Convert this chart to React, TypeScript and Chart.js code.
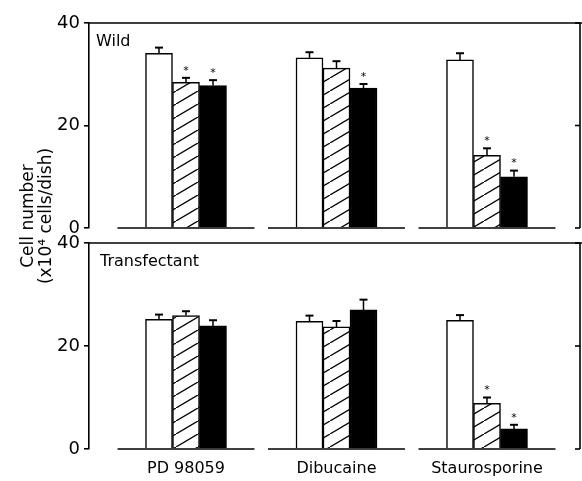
import React, { useEffect, useRef } from 'react';
import { Chart, registerables } from 'chart.js';

Chart.register(...registerables);

// ---------- data ----------
const categories = ['PD 98059', 'Dibucaine', 'Staurosporine'];
const yMin = 0;
const yMax = 40;
const yStep = 20;

// Wild
const wildControl = [34.1, 33.2, 32.8];
const wildLow = [28.4, 31.2, 14.2];
const wildHigh = [27.8, 27.3, 10.0];
const wildControlErr = [1.1, 1.1, 1.3];
const wildLowErr = [0.9, 1.35, 1.35];
const wildHighErr = [1.05, 0.8, 1.2];
const wildControlSig = [false, false, false];
const wildLowSig = [true, false, true];
const wildHighSig = [true, true, true];

// Transfectant
const transControl = [25.2, 24.8, 25.0];
const transLow = [25.9, 23.7, 8.85];
const transHigh = [23.9, 27.0, 3.9];
const transControlErr = [0.9, 1.1, 1.0];
const transLowErr = [0.85, 1.15, 1.15];
const transHighErr = [1.1, 2.0, 0.8];
const transControlSig = [false, false, false];
const transLowSig = [false, false, true];
const transHighSig = [false, false, true];

const FONT = '"DejaVu Sans", "Liberation Sans", Arial, sans-serif';

function makeHatch(): CanvasPattern | string {
  const c = document.createElement('canvas');
  const W = 22;
  const H = 13;
  c.width = W;
  c.height = H;
  const g = c.getContext('2d');
  if (!g) return '#999';
  g.fillStyle = '#fff';
  g.fillRect(0, 0, W, H);
  g.strokeStyle = '#000';
  g.lineWidth = 1.3;
  g.beginPath();
  g.moveTo(-W, 2 * H);
  g.lineTo(2 * W, -H);
  g.stroke();
  return g.createPattern(c, 'repeat') || '#999';
}

type Series = { values: number[]; err: number[]; sig: boolean[] };

function decorPlugin(label: string, labelDx: number, series: Series[]) {
  return {
    id: 'panelDecor',
    afterDatasetsDraw(chart: any) {
      const ctx: CanvasRenderingContext2D = chart.ctx;
      const { left, right, top, bottom } = chart.chartArea;
      const xs = chart.scales.x;
      const ys = chart.scales.y;
      ctx.save();
      ctx.strokeStyle = '#000';
      ctx.fillStyle = '#000';
      ctx.lineWidth = 1.6;
      // top and right frame
      ctx.beginPath();
      ctx.moveTo(left, top);
      ctx.lineTo(chart.width, top);
      ctx.stroke();
      ctx.beginPath();
      ctx.moveTo(right, top);
      ctx.lineTo(right, bottom);
      ctx.stroke();
      // inward ticks on right axis
      ys.ticks.forEach((t: any) => {
        const py = ys.getPixelForValue(t.value);
        ctx.beginPath();
        ctx.moveTo(right - 5, py);
        ctx.lineTo(right, py);
        ctx.stroke();
      });
      // baseline segments under each group
      const y0 = ys.getPixelForValue(0);
      ctx.lineWidth = 1.6;
      categories.forEach((_, i) => {
        const a = xs.getPixelForValue(i + 1 - 0.455);
        const b = xs.getPixelForValue(i + 1 + 0.455);
        ctx.beginPath();
        ctx.moveTo(a, y0);
        ctx.lineTo(b, y0);
        ctx.stroke();
      });
      // error bars & asterisks
      series.forEach((s, di) => {
        const meta = chart.getDatasetMeta(di);
        meta.data.forEach((el: any, i: number) => {
          const v = s.values[i];
          const e = s.err[i];
          const x = el.x;
          const yTop = ys.getPixelForValue(v);
          const yE = ys.getPixelForValue(v + e);
          ctx.lineWidth = 1.5;
          ctx.beginPath();
          ctx.moveTo(x, yTop);
          ctx.lineTo(x, yE);
          ctx.stroke();
          ctx.lineWidth = 2;
          ctx.beginPath();
          ctx.moveTo(x - 4, yE);
          ctx.lineTo(x + 4, yE);
          ctx.stroke();
          if (s.sig[i]) {
            ctx.font = `11px ${FONT}`;
            ctx.textAlign = 'center';
            ctx.textBaseline = 'middle';
            ctx.fillText('*', x, yE - 7);
          }
        });
      });
      // panel label
      ctx.font = `16px ${FONT}`;
      ctx.textAlign = 'left';
      ctx.textBaseline = 'middle';
      ctx.fillText(label, left + labelDx, top + 19);
      ctx.restore();
    },
  };
}

function buildConfig(
  hatch: CanvasPattern | string,
  control: number[],
  low: number[],
  high: number[],
  series: Series[],
  label: string,
  labelDx: number,
  showX: boolean,
  padding: any
): any {
  const toPts = (arr: number[]) => arr.map((v, i) => ({ x: i + 1, y: v }));
  return {
    type: 'bar',
    data: {
      datasets: [
        { data: toPts(control), backgroundColor: '#fff', borderColor: '#000', borderWidth: 1.5 },
        { data: toPts(low), backgroundColor: hatch, borderColor: '#000', borderWidth: 1.5 },
        { data: toPts(high), backgroundColor: '#000', borderColor: '#000', borderWidth: 1.5 },
      ],
    },
    options: {
      animation: false,
      responsive: false,
      layout: { padding },
      datasets: { bar: { barThickness: 27, grouped: true } },
      plugins: { legend: { display: false }, tooltip: { enabled: false } },
      scales: {
        x: {
          type: 'linear',
          min: 0.3555,
          max: 3.618,
          offset: false,
          bounds: 'data',
          display: showX,
          grid: { display: false, offset: false },
          border: { display: false },
          afterBuildTicks: (s: any) => {
            s.ticks = categories.map((_, i) => ({ value: i + 1 }));
          },
          afterFit: (s: any) => {
            s.height = showX ? 32 : 0;
            s.paddingLeft = 0;
            s.paddingRight = 0;
          },
          ticks: {
            autoSkip: false,
            maxRotation: 0,
            minRotation: 0,
            padding: 2,
            color: '#000',
            font: { family: FONT, size: 16 },
            callback: (v: any) => categories[Math.round(Number(v)) - 1] ?? '',
          },
        },
        y: {
          min: yMin,
          max: yMax,
          afterFit: (s: any) => {
            s.width = 89;
            s.paddingTop = 0;
            s.paddingBottom = 0;
          },
          ticks: {
            stepSize: yStep,
            padding: 4,
            color: '#000',
            font: { family: FONT, size: 18 },
          },
          grid: {
            drawOnChartArea: false,
            drawTicks: true,
            tickLength: 5,
            tickColor: '#000',
            lineWidth: 1.6,
          },
          border: { display: true, color: '#000', width: 1.6 },
        },
      },
    },
    plugins: [decorPlugin(label, labelDx, series)],
  };
}

export default function App() {
  const topRef = useRef<HTMLCanvasElement>(null);
  const botRef = useRef<HTMLCanvasElement>(null);

  useEffect(() => {
    const hatch = makeHatch();
    const c1 = new Chart(
      topRef.current as HTMLCanvasElement,
      buildConfig(
        hatch,
        wildControl,
        wildLow,
        wildHigh,
        [
          { values: wildControl, err: wildControlErr, sig: wildControlSig },
          { values: wildLow, err: wildLowErr, sig: wildLowSig },
          { values: wildHigh, err: wildHighErr, sig: wildHighSig },
        ],
        'Wild',
        7,
        false,
        { top: 23, right: 2, bottom: 8, left: 0 }
      )
    );
    const c2 = new Chart(
      botRef.current as HTMLCanvasElement,
      buildConfig(
        hatch,
        transControl,
        transLow,
        transHigh,
        [
          { values: transControl, err: transControlErr, sig: transControlSig },
          { values: transLow, err: transLowErr, sig: transLowSig },
          { values: transHigh, err: transHighErr, sig: transHighSig },
        ],
        'Transfectant',
        11,
        true,
        { top: 17, right: 2, bottom: 0, left: 0 }
      )
    );
    return () => {
      c1.destroy();
      c2.destroy();
    };
  }, []);

  return (
    <div
      style={{
        position: 'absolute',
        left: 0,
        top: 0,
        width: 582,
        height: 481,
        background: '#fff',
        overflow: 'hidden',
      }}
    >
      <canvas
        ref={topRef}
        width={582}
        height={236}
        style={{ position: 'absolute', left: 0, top: 0, width: 582, height: 236 }}
      />
      <canvas
        ref={botRef}
        width={582}
        height={255}
        style={{ position: 'absolute', left: 0, top: 226, width: 582, height: 255 }}
      />
      <div
        style={{
          position: 'absolute',
          left: 36 - 90,
          top: 216 - 18,
          width: 180,
          height: 36,
          lineHeight: '18px',
          fontSize: 17,
          fontFamily: FONT,
          textAlign: 'center',
          color: '#000',
          transform: 'rotate(-90deg)',
          transformOrigin: '50% 50%',
          whiteSpace: 'nowrap',
        }}
      >
        <div>Cell number</div>
        <div>(x10⁴ cells/dish)</div>
      </div>
    </div>
  );
}
